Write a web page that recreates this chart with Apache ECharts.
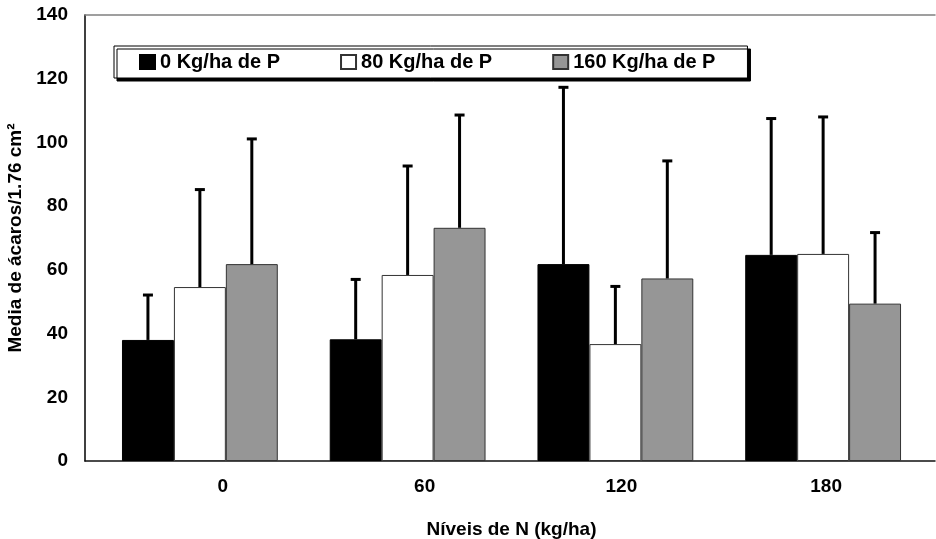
<!DOCTYPE html>
<html>
<head>
<meta charset="utf-8">
<script src="https://cdn.jsdelivr.net/npm/echarts@6/dist/echarts.min.js"></script>
<style>html,body{margin:0;padding:0;background:#fff}#c{width:936px;height:539px}</style>
</head>
<body>
<div id="c"></div>
<script>
var categories = ['0', '60', '120', '180'];
var seriesNames = ['0 Kg/ha de P', '80 Kg/ha de P', '160 Kg/ha de P'];
var meanP0 = [38.0, 38.2, 61.8, 64.7];
var meanP80 = [54.6, 58.4, 36.7, 65.0];
var meanP160 = [61.8, 73.2, 57.3, 49.4];
var sdP0 = [14.1, 18.8, 55.5, 42.8];
var sdP80 = [30.6, 34.2, 18.1, 43.0];
var sdP160 = [39.3, 35.4, 36.9, 22.3];
var yTicks = [0, 20, 40, 60, 80, 100, 120, 140];

var means = [meanP0, meanP80, meanP160];
var sds = [sdP0, sdP80, sdP160];
var fills = ['#000000', '#ffffff', '#969696'];
var borders = ['#000000', '#333333', '#333333'];
var FONT = 'Liberation Sans, Arial, sans-serif';

var series = [];
for (var s = 0; s < 3; s++) {
  series.push({
    name: seriesNames[s], type: 'bar', xAxisIndex: 2, yAxisIndex: 1,
    barGap: '0%', barCategoryGap: '25%',
    itemStyle: { color: fills[s], borderColor: borders[s], borderWidth: 1 },
    data: means[s], z: 2
  });
}
for (var s2 = 0; s2 < 3; s2++) {
  (function (si) {
    var d = [];
    for (var k = 0; k < categories.length; k++) d.push([k, means[si][k], sds[si][k]]);
    series.push({
      type: 'custom', xAxisIndex: 2, yAxisIndex: 1, z: 3, silent: true,
      encode: { x: 0, y: 1 },
      data: d,
      renderItem: function (params, api) {
        var c = api.value(0), v = api.value(1), e = api.value(2);
        var base = api.coord([c, v]);
        var top = api.coord([c, v + e]);
        var band = api.size([1, 0])[0];
        var x = base[0] + (si - 1) * band * 0.25;
        return { type: 'group', children: [
          { type: 'line', shape: { x1: x, y1: base[1], x2: x, y2: top[1] }, style: { stroke: '#000', lineWidth: 3 } },
          { type: 'line', shape: { x1: x - 5, y1: top[1], x2: x + 5, y2: top[1] }, style: { stroke: '#000', lineWidth: 3 } }
        ] };
      }
    });
  })(s2);
}

var labelShift = {
  l0: { padding: [0, 0, 0, 46] },
  l1: { padding: [0, 0, 0, 34] },
  l2: { padding: [0, 0, 0, 12] },
  l3: { padding: [0, 0, 0, 6] }
};

var chart = echarts.init(document.getElementById('c'), null, { renderer: 'canvas' });
chart.setOption({
  animation: false,
  backgroundColor: '#fff',
  textStyle: { fontFamily: FONT },
  legend: {
    data: seriesNames, left: 114, top: 46, orient: 'horizontal',
    padding: [6, 32, 6, 25], itemGap: 60, itemWidth: 15, itemHeight: 14,
    icon: 'rect',
    backgroundColor: '#fff', borderColor: '#000', borderWidth: 1,
    shadowColor: '#000', shadowBlur: 0, shadowOffsetX: 3, shadowOffsetY: 3,
    textStyle: { fontSize: 20, fontWeight: 'bold', color: '#000', fontFamily: FONT }
  },
  grid: [
    { left: 85, right: 1, top: 15, bottom: 78, containLabel: false, outerBoundsMode: 'none' },
    { left: 96, right: 9, top: 15, bottom: 78, containLabel: false, outerBoundsMode: 'none' }
  ],
  xAxis: [
    { gridIndex: 0, type: 'category', data: categories, position: 'bottom',
      axisLine: { lineStyle: { color: '#111', width: 1.5 } }, axisTick: { show: false }, axisLabel: { show: false }, splitLine: { show: false } },
    { gridIndex: 0, type: 'category', data: categories, position: 'top',
      axisLine: { lineStyle: { color: '#808080', width: 1.5 } }, axisTick: { show: false }, axisLabel: { show: false }, splitLine: { show: false } },
    { gridIndex: 1, type: 'category', data: categories, position: 'bottom',
      axisLine: { show: false }, axisTick: { show: false },
      axisLabel: { fontSize: 19, fontWeight: 'bold', color: '#000', margin: 16, fontFamily: FONT,
        formatter: function (v, i) { return '{l' + i + '|' + v + '}'; },
        rich: labelShift },
      name: 'Níveis de N (kg/ha)', nameLocation: 'middle', nameGap: 59,
      nameTextStyle: { fontSize: 19, fontWeight: 'bold', color: '#000', fontFamily: FONT } }
  ],
  yAxis: [
    { gridIndex: 0, type: 'value', min: yTicks[0], max: yTicks[yTicks.length - 1], interval: yTicks[1] - yTicks[0],
      axisLine: { show: true, lineStyle: { color: '#000', width: 1.5 } }, axisTick: { show: false }, splitLine: { show: false },
      axisLabel: { fontSize: 19, fontWeight: 'bold', color: '#000', margin: 17, fontFamily: FONT },
      name: 'Media de ácaros/1.76 cm²', nameLocation: 'middle', nameGap: 60,
      nameTextStyle: { fontSize: 19, fontWeight: 'bold', color: '#000', fontFamily: FONT } },
    { gridIndex: 1, type: 'value', min: yTicks[0], max: yTicks[yTicks.length - 1], interval: yTicks[1] - yTicks[0], show: false, splitLine: { show: false } }
  ],
  series: series
});
</script>
</body>
</html>
